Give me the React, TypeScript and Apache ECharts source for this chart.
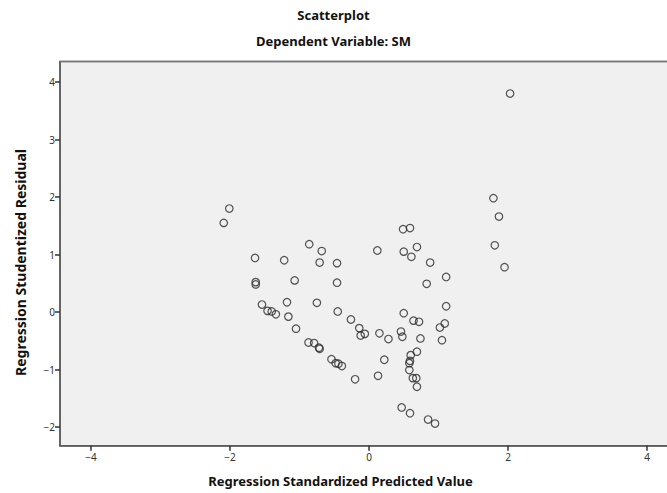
import React, { useEffect, useRef } from "react";
import * as echarts from "echarts";

const titleText = "Scatterplot";
const subtitleText = "Dependent Variable: SM";
const xAxisName = "Regression Standardized Predicted Value";
const yAxisName = "Regression Studentized Residual";

const xTicks = [-4, -2, 0, 2, 4];
const yTicks = [-2, -1, 0, 1, 2, 3, 4];

const predicted = [
  2.03, 1.79, 1.87, 1.81, 1.95, -2.01, -2.09, -0.86, -0.68, -1.64,
  -1.22, 0.12, 0.49, 0.59, 0.69, 0.5, 0.61, 0.88, -0.71, -0.46,
  1.11, 0.83, -1.63, -1.63, -1.07, -0.46, -1.54, -1.18, -0.75, 1.11,
  -1.46, -1.4, -1.34, -1.16, -0.45, -0.26, 0.5, -1.05, -0.14, -0.12,
  -0.06, 0.15, 0.28, 0.64, 0.72, 0.46, 0.48, 0.74, 1.09, 1.02,
  1.05, -0.87, -0.79, -0.72, -0.71, -0.54, -0.48, -0.44, -0.39, -0.2,
  0.22, 0.13, 0.69, 0.6, 0.59, 0.58, 0.58, 0.63, 0.68, 0.69,
  0.47, 0.59, 0.85, 0.95,
];
const residual = [
  3.8, 1.98, 1.66, 1.16, 0.78, 1.8, 1.55, 1.18, 1.06, 0.94,
  0.9, 1.07, 1.44, 1.46, 1.13, 1.05, 0.96, 0.86, 0.86, 0.85,
  0.61, 0.49, 0.52, 0.48, 0.55, 0.51, 0.13, 0.17, 0.16, 0.1,
  0.02, 0.01, -0.04, -0.08, 0.01, -0.13, -0.02, -0.29, -0.28, -0.41,
  -0.38, -0.37, -0.47, -0.15, -0.17, -0.34, -0.43, -0.46, -0.2, -0.27,
  -0.49, -0.53, -0.54, -0.62, -0.64, -0.82, -0.89, -0.9, -0.94, -1.17,
  -0.83, -1.11, -0.69, -0.75, -0.85, -0.89, -1.01, -1.15, -1.15, -1.3,
  -1.66, -1.76, -1.87, -1.94,
];

const FONT = "'Noto Sans', 'DejaVu Sans', sans-serif";

export default function App() {
  const ref = useRef<HTMLDivElement>(null);
  useEffect(() => {
    if (!ref.current) return;
    const chart = echarts.init(ref.current, undefined, { renderer: "svg" });
    const data = predicted.map((x, i) => [x, residual[i]]);
    const tickLabel = {
      formatter: (v: number) => String(v).replace("-", "\u2212"),
      fontFamily: FONT,
      fontSize: 10,
      color: "#333",
    };
    chart.setOption({
      animation: false,
      backgroundColor: "#ffffff",
      grid: {
        left: 60,
        right: 12,
        top: 61.5,
        bottom: 47.3,
        show: true,
        backgroundColor: "#f0f0f0",
        borderColor: "#777777",
        borderWidth: 1.5,
      },
      xAxis: {
        type: "value",
        min: -4.446,
        max: 4.446,
        axisLine: { show: true, onZero: false, lineStyle: { color: "#555", width: 1.5 } },
        splitLine: { show: false },
        axisTick: {
          show: true,
          length: 5,
          inside: false,
          customValues: xTicks,
          lineStyle: { color: "#333", width: 1.5 },
        },
        axisLabel: { ...tickLabel, customValues: xTicks, margin: 6 },
      },
      yAxis: {
        type: "value",
        min: -2.325,
        max: 4.357,
        axisLine: { show: true, onZero: false, lineStyle: { color: "#555", width: 1.5 } },
        splitLine: { show: false },
        axisTick: {
          show: true,
          length: 5,
          inside: false,
          customValues: yTicks,
          lineStyle: { color: "#333", width: 1.5 },
        },
        axisLabel: { ...tickLabel, customValues: yTicks, margin: 5 },
      },
      series: [
        {
          type: "scatter",
          data,
          symbol: "circle",
          symbolSize: 7.5,
          itemStyle: {
            color: "rgba(0,0,0,0)",
            borderColor: "#2b2b2b",
            borderWidth: 1.2,
          },
        },
      ],
      graphic: [
        {
          type: "line",
          shape: { x1: 60, y1: 61.5, x2: 690, y2: 61.5 },
          style: { stroke: "#777", lineWidth: 1.5 },
          z: 10,
        },
        {
          type: "text",
          x: 333.5,
          y: 15,
          style: {
            text: titleText,
            fontFamily: FONT,
            fontWeight: "bold",
            fontSize: 13,
            fill: "#111",
            align: "center",
            verticalAlign: "middle",
          },
        },
        {
          type: "text",
          x: 333.5,
          y: 41,
          style: {
            text: subtitleText,
            fontFamily: FONT,
            fontWeight: "bold",
            fontSize: 13,
            fill: "#111",
            align: "center",
            verticalAlign: "middle",
          },
        },
        {
          type: "text",
          x: 340.5,
          y: 481,
          style: {
            text: xAxisName,
            fontFamily: FONT,
            fontWeight: "bold",
            fontSize: 13,
            fill: "#111",
            align: "center",
            verticalAlign: "middle",
          },
        },
        {
          type: "text",
          x: 20,
          y: 262.5,
          rotation: Math.PI / 2,
          style: {
            text: yAxisName,
            fontFamily: FONT,
            fontWeight: "bold",
            fontSize: 14,
            fill: "#111",
            align: "center",
            verticalAlign: "middle",
          },
        },
      ],
    });
    return () => chart.dispose();
  }, []);
  return (
    <div
      style={{
        position: "fixed",
        left: 0,
        top: 0,
        width: 667,
        height: 493,
        overflow: "hidden",
        background: "#fff",
      }}
    >
      <div ref={ref} style={{ width: 690, height: 493 }} />
    </div>
  );
}
